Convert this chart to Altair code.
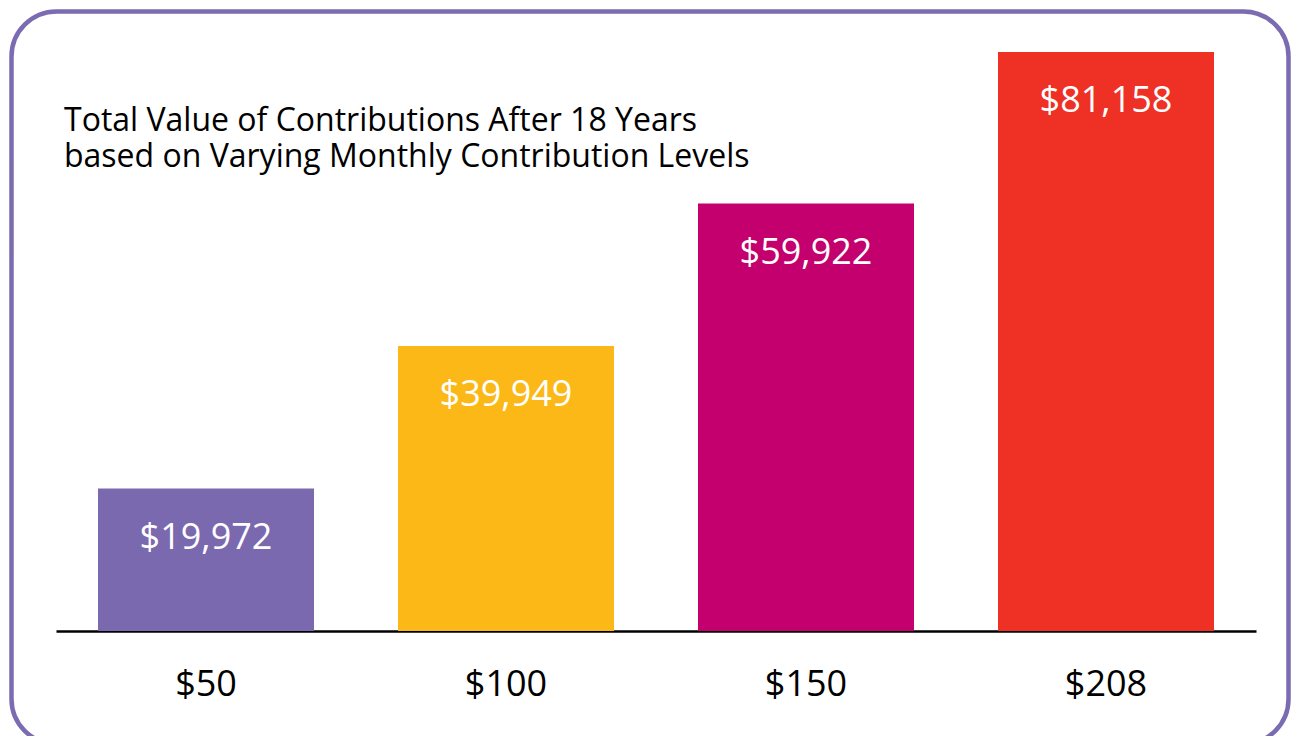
import altair as alt
import pandas as pd

# Data
categories = ["$50", "$100", "$150", "$208"]
values = [19972, 39949, 59922, 81158]
value_labels = ["$19,972", "$39,949", "$59,922", "$81,158"]
colors = ["#7B69AF", "#FBB817", "#C4006E", "#EE3124"]
title_text = "Total Value of Contributions After 18 Years\nbased on Varying Monthly Contribution Levels"

FONT = "Open Sans"
BORDER = "#7B6BB0"

df = pd.DataFrame({"cat": categories, "value": values, "label": value_labels})
one = pd.DataFrame({"t": [title_text]})

x_enc = alt.X(
    "cat:N",
    sort=None,
    scale=alt.Scale(paddingInner=0.28, paddingOuter=0.14),
    axis=alt.Axis(
        title=None,
        labelAngle=0,
        labelFontSize=36,
        labelFont=FONT,
        labelColor="black",
        labelBaseline="middle",
        labelPadding=53,
        ticks=False,
        tickSize=0,
        domainColor="black",
        domainWidth=2.5,
        grid=False,
    ),
)
y_enc = alt.Y("value:Q", scale=alt.Scale(domain=[0, 81158], nice=False, zero=True), axis=None)

bars = alt.Chart(df).mark_bar().encode(
    x=x_enc,
    y=y_enc,
    color=alt.Color("cat:N", sort=None, scale=alt.Scale(domain=categories, range=colors), legend=None),
)

labels = alt.Chart(df).mark_text(
    baseline="middle", dy=49, fontSize=36, font=FONT, color="white"
).encode(x=alt.X("cat:N", sort=None), y="value:Q", text="label:N")

border = alt.Chart(one).mark_rect(
    filled=False, stroke=BORDER, strokeWidth=4.5, cornerRadius=45
).encode(
    x=alt.value(-44.5), x2=alt.value(1232.5), y=alt.value(-40.5), y2=alt.value(692)
)

title = alt.Chart(one).mark_text(
    align="left", baseline="alphabetic", fontSize=32, font=FONT, color="black", lineBreak="\n", lineHeight=35.5
).encode(x=alt.value(8), y=alt.value(79), text="t:N")

chart = (
    alt.layer(border, bars, labels, title)
    .properties(
        width=1200,
        height=579,
        padding={"left": 48, "top": 44, "right": 35, "bottom": 105},
        autosize=alt.AutoSizeParams(type="none"),
        background="white",
    )
    .configure_view(stroke=None)
)

chart.save("out.html", embed_options={"renderer": "svg", "actions": False})
